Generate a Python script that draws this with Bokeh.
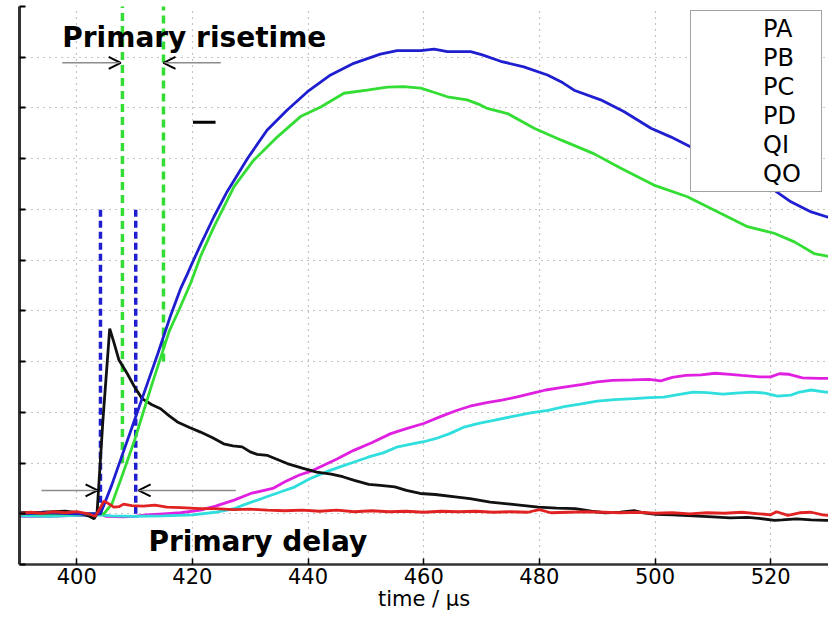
from bokeh.plotting import figure
from bokeh.models import (Range1d, FixedTicker, Arrow, OpenHead, Label,
                          Legend, LegendItem, ColumnDataSource)
from bokeh.embed import file_html
from bokeh.resources import INLINE

# ---------------- data ----------------
x_ticks = [400, 420, 440, 460, 480, 500, 520]
y_ticks = list(range(-1, 11))
legend_labels = ["PA", "PB", "PC", "PD", "QI", "QO"]

pa_t = [390, 395, 400, 404.1, 406, 408, 410, 412.4, 414, 416.2, 418, 419.1, 420,
        421.4, 423.7, 426, 429.5, 432.9, 436.4, 439.9, 443.9, 447.9, 452.5, 455.4,
        459.5, 461.8, 464.1, 468.1, 470, 473.3, 477.3, 481.4, 484, 486, 490.6,
        494.6, 499.3, 502.7, 506.2, 510, 514, 517.5, 520.6, 523.5, 527, 529.8, 530]
pa_v = [0.0, 0.02, 0.0, 0.0, 0.55, 1.2, 1.85, 2.63, 3.15, 3.9, 4.45, 4.72, 4.95,
        5.3, 5.85, 6.35, 7.0, 7.56, 7.96, 8.32, 8.65, 8.88, 9.06, 9.13,
        9.13, 9.16, 9.11, 9.11, 9.05, 8.92, 8.81, 8.65, 8.5, 8.35, 8.16,
        7.93, 7.6, 7.43, 7.23, 7.0, 6.75, 6.55, 6.38, 6.15, 5.95, 5.85, 5.85]

pb_t = [390, 400, 404.7, 406.1, 408, 410, 413, 416, 418, 419.7, 421.5, 423.7,
        427.2, 430.6, 434.7, 438.7, 442.2, 446.2, 450.2, 453.7, 456.5, 459.5, 462,
        464.1, 467.5, 469.8, 471.0, 474.5, 479.1, 483.7, 489.4, 494.1, 499.8, 505.6,
        511.4, 516.0, 520.6, 524.1, 527.5, 529.8, 530]
pb_v = [0.0, 0.0, 0.0, 0.2, 0.8, 1.45, 2.55, 3.6, 4.1, 4.55, 5.1, 5.65,
        6.45, 6.97, 7.43, 7.83, 8.02, 8.29, 8.35, 8.41, 8.42, 8.39, 8.3,
        8.22, 8.16, 8.06, 7.99, 7.89, 7.6, 7.37, 7.1, 6.81, 6.48, 6.25,
        5.92, 5.66, 5.53, 5.36, 5.13, 5.08, 5.07]

pc_t = [390, 395, 400, 403, 404, 405, 408, 410, 412, 415, 418, 421.4, 424, 427.2,
        430.1, 433.9, 436, 438.4, 440.5, 442.8, 445, 447.9, 451, 454.3, 457, 460,
        463, 465.8, 468, 470.9, 473.5, 476, 478.5, 481.1, 484, 487.5, 490, 492.6,
        496, 499, 501, 503, 505.3, 508, 510.4, 513, 515, 518.1, 520, 521.5, 523.2,
        525.5, 528.3, 530]
pc_v = [-0.05, -0.05, -0.03, -0.04, 0.0, -0.05, -0.06, -0.05, -0.02, 0.0, 0.02, 0.07,
        0.15, 0.27, 0.4, 0.5, 0.63, 0.76, 0.84, 0.96, 1.08, 1.25, 1.4, 1.58, 1.68,
        1.78, 1.92, 2.04, 2.12, 2.19, 2.24, 2.3, 2.37, 2.44, 2.49, 2.55, 2.6, 2.63,
        2.64, 2.65, 2.62, 2.69, 2.73, 2.74, 2.77, 2.75, 2.73, 2.7, 2.7, 2.76, 2.75,
        2.68, 2.67, 2.67]

pd_t = [390, 395, 400, 404, 406, 410, 415, 420, 424, 427.2, 429, 432, 435.2, 437.5,
        440.3, 443, 445.4, 448, 450.5, 453, 455.5, 458, 460, 462, 464.5, 467, 469.5,
        472.1, 475, 478.5, 481.5, 484.3, 487, 490, 493, 496.4, 499, 501.5, 504,
        506.6, 509, 511.7, 514, 516.8, 519, 521.2, 523.5, 525, 527, 529.5, 530]
pd_v = [-0.04, -0.05, -0.03, -0.02, -0.04, -0.05, -0.04, -0.02, 0.03, 0.1, 0.18, 0.3,
        0.43, 0.52, 0.69, 0.82, 0.92, 1.02, 1.12, 1.2, 1.32, 1.38, 1.42, 1.48, 1.58,
        1.71, 1.78, 1.84, 1.91, 1.99, 2.04, 2.11, 2.16, 2.22, 2.25, 2.27, 2.29, 2.3,
        2.35, 2.4, 2.39, 2.36, 2.38, 2.4, 2.38, 2.32, 2.34, 2.4, 2.44, 2.4, 2.4]

qi_t = [390, 394, 398, 400, 402, 403.0, 403.5, 404.5, 405.7, 406.5, 407.3, 408.7, 410,
        411.3, 413, 414.5, 416, 417.4, 419.5, 421.4, 423.5, 425.4, 427, 428.6, 430,
        431.2, 433, 436.4, 439, 441.5, 444, 446, 448, 450.5, 452.5, 455, 457, 459.4,
        462, 465.8, 468, 471.5, 475, 479.8, 483, 486.2, 489, 491.3, 494, 496.4, 498,
        500.2, 503, 506.6, 510, 513, 516, 518, 520.7, 522, 524.5, 527, 529.6, 530]
qi_v = [0.02, 0.03, 0.05, 0.02, -0.04, -0.1, 0.0, 1.8, 3.65, 3.35, 3.03, 2.77, 2.5,
        2.27, 2.15, 2.07, 1.93, 1.81, 1.7, 1.61, 1.5, 1.38, 1.34, 1.32, 1.22,
        1.17, 1.15, 0.99, 0.9, 0.82, 0.78, 0.73, 0.66, 0.58, 0.56, 0.53, 0.46, 0.4,
        0.38, 0.33, 0.3, 0.23, 0.19, 0.13, 0.11, 0.1, 0.05, 0.02, 0.03, 0.06, 0.02,
        -0.01, -0.02, -0.04, -0.06, -0.08, -0.07, -0.09, -0.13, -0.12, -0.1, -0.12, -0.13, -0.13]

qo_t = [390, 392, 394, 396, 398, 400, 402, 403.2, 404, 404.7, 405.5, 406.4, 407.3,
        408.1, 409.5, 411.5, 413.5, 415.6, 418, 421.4, 424, 427, 430, 433, 436, 439,
        442, 445, 448, 451, 454, 457, 460, 463, 466, 469, 472, 475, 478, 480, 482,
        485, 488, 491, 494, 497, 500, 503, 506, 509, 512, 515, 518, 520, 521, 523,
        525, 527, 529, 530]
qo_v = [0.0, 0.03, 0.01, 0.04, 0.02, 0.04, 0.0, -0.05, 0.1, 0.25, 0.2, 0.13, 0.14,
        0.19, 0.16, 0.15, 0.17, 0.13, 0.12, 0.1, 0.1, 0.08, 0.09, 0.07, 0.06, 0.07,
        0.05, 0.07, 0.04, 0.06, 0.04, 0.05, 0.03, 0.05, 0.04, 0.05, 0.03, 0.04, 0.03,
        0.08, 0.02, 0.03, 0.04, 0.03, 0.02, 0.03, 0.01, 0.02, 0.0, 0.02, 0.01, 0.03,
        0.0, -0.02, 0.04, -0.03, 0.02, 0.03, -0.02, -0.03]

delay_marks = [404.1, 410.2]        # blue dashed markers (delay)
delay_span = [0.0, 6.0]
rise_marks = [407.9, 415.0]         # green dashed markers (risetime)
rise_bottoms = [1.0, 3.0]
rise_top = 10.2

# ---------------- figure ----------------
p = figure(frame_width=809, frame_height=558, output_backend="svg",
           toolbar_location=None, x_range=Range1d(390.1, 530.0),
           y_range=Range1d(-1, 10), min_border_left=19, min_border_right=0,
           min_border_top=6, min_border_bottom=54)
p.outline_line_color = None
p.background_fill_color = "white"

# grid
p.xaxis.ticker = FixedTicker(ticks=x_ticks)
p.yaxis.ticker = FixedTicker(ticks=y_ticks)
for g in (p.xgrid, p.ygrid):
    g.grid_line_color = "#8a8a8a"
    g.grid_line_dash = "1 5"
    g.grid_line_width = 1.2

# axes
p.xaxis.axis_line_width = 2.5
p.xaxis.axis_line_color = "#333333"
p.xaxis.major_tick_in = 6
p.xaxis.major_tick_out = 0
p.xaxis.major_tick_line_width = 1.5
p.xaxis.minor_tick_line_color = None
p.xaxis.major_label_text_font = "DejaVu Sans"
p.xaxis.major_label_text_font_size = "21px"
p.xaxis.major_label_text_color = "black"
p.xaxis.major_label_standoff = 3
p.xaxis.axis_label = "time / µs"
p.xaxis.axis_label_text_font = "DejaVu Sans"
p.xaxis.axis_label_text_font_size = "21px"
p.xaxis.axis_label_text_font_style = "normal"
p.xaxis.axis_label_text_color = "black"
p.xaxis.axis_label_standoff = 0

p.yaxis.axis_line_width = 3
p.yaxis.axis_line_color = "#333333"
p.yaxis.major_tick_in = 6
p.yaxis.major_tick_out = 0
p.yaxis.major_tick_line_width = 2
p.yaxis.minor_tick_line_color = None
p.yaxis.major_label_text_font_size = "1px"
p.yaxis.major_label_text_alpha = 0
p.yaxis.major_label_standoff = 0

# dashed markers
p.segment(x0=delay_marks, x1=delay_marks, y0=[delay_span[0]] * 2, y1=[delay_span[1]] * 2,
          line_color="#1f1fd0", line_width=3.5, line_dash="7 4")
p.segment(x0=rise_marks, x1=rise_marks, y0=rise_bottoms, y1=[rise_top] * 2,
          line_color="#33dd33", line_width=3.5, line_dash="8 5")

# traces
series = [
    (pc_t, pc_v, "#e020e0"),
    (pd_t, pd_v, "#30dede"),
    (qi_t, qi_v, "#111111"),
    (pb_t, pb_v, "#33dd33"),
    (pa_t, pa_v, "#1f1fd0"),
    (qo_t, qo_v, "#e02222"),
]
for t, v, c in series:
    p.line(x=t, y=v, line_color=c, line_width=2.8)

# stray short mark
p.segment(x0=[420.1], x1=[424.0], y0=[7.72], y1=[7.72], line_color="black", line_width=3)

# arrows
grey = "#8c8c8c"
for xs, xe, yy in [(397.5, 407.6, 8.89), (424.9, 415.0, 8.89),
                   (393.9, 403.6, 0.46), (427.5, 410.7, 0.46)]:
    p.add_layout(Arrow(end=OpenHead(size=12, line_color="black", line_width=2),
                       x_start=xs, y_start=yy, x_end=xe, y_end=yy,
                       line_color=grey, line_width=1.5))

# annotations text
p.add_layout(Label(x=397.5, y=9.38, text="Primary risetime", text_font="DejaVu Sans",
                   text_font_style="bold", text_font_size="28px", text_baseline="middle",
                   text_color="black"))
p.add_layout(Label(x=412.4, y=-0.54, text="Primary delay", text_font="DejaVu Sans",
                   text_font_style="bold", text_font_size="28px", text_baseline="middle",
                   text_color="black"))

# legend (entries show no line samples, as in the reference)
dummy = ColumnDataSource(data=dict(x=[], y=[]))
items = []
for lab in legend_labels:
    r = p.line(x="x", y="y", source=dummy, line_alpha=0)
    items.append(LegendItem(label=lab, renderers=[r]))
legend = Legend(items=items, location=(671, 372), orientation="vertical",
                label_text_font="DejaVu Sans", label_text_font_size="24px",
                label_text_color="black",
                label_height=29, glyph_height=29, glyph_width=64, label_standoff=5,
                label_width=55, spacing=0, padding=3, margin=0,
                border_line_color="#444444", border_line_width=1.5,
                background_fill_color="white", background_fill_alpha=1.0)
p.add_layout(legend, "center")

open("out.html", "w").write(file_html(p, INLINE))
